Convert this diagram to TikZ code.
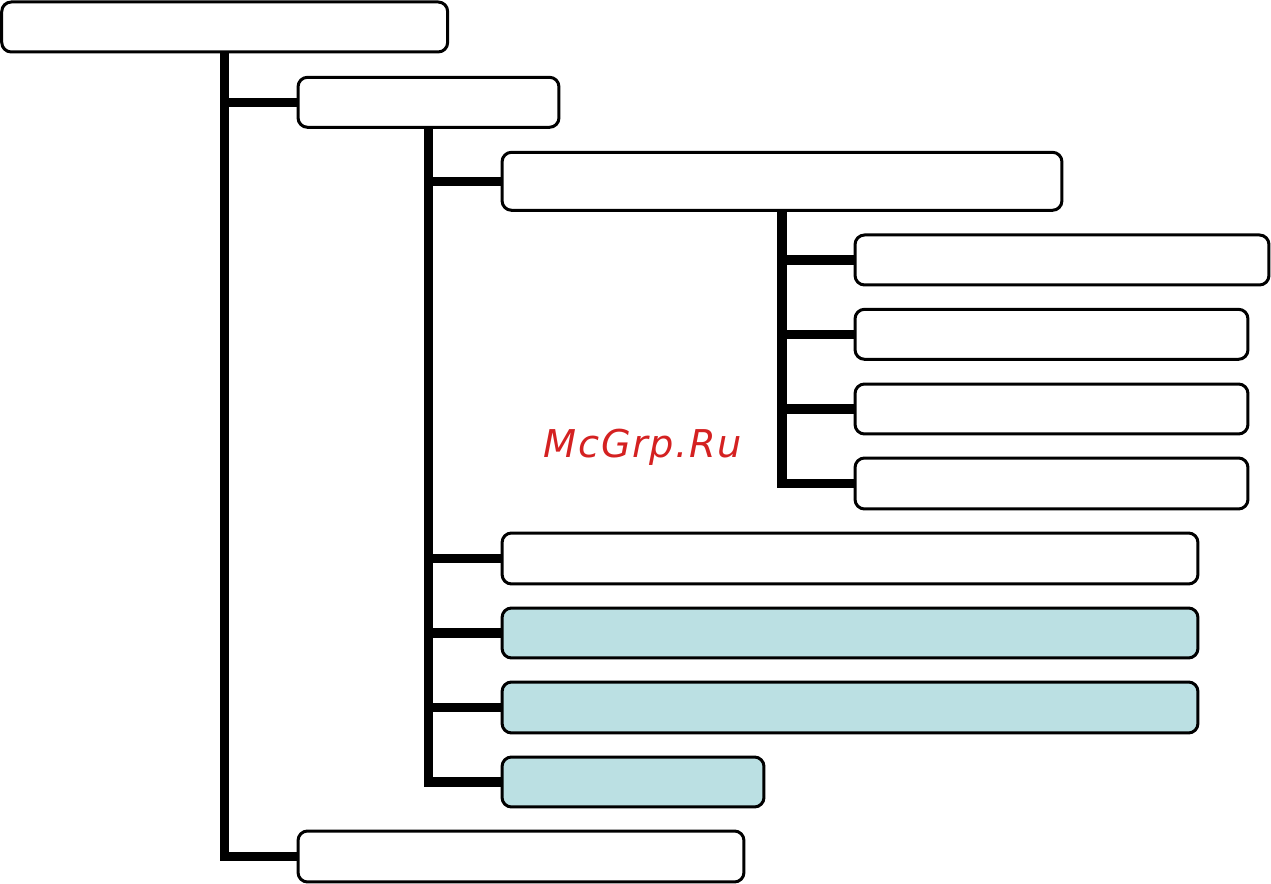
\documentclass[tikz,border=0pt]{standalone}
\usepackage{fontspec}
\newfontfamily\markfont[LetterSpace=4.3]{DejaVu Sans}
\definecolor{boxfill}{HTML}{BBE0E3}
\definecolor{markred}{HTML}{D42121}
\tikzset{
  plainbox/.style={rectangle,draw=black,fill=white,line width=0.06cm,rounded corners=0.19cm,inner sep=0pt},
  tealbox/.style={plainbox,fill=boxfill},
  trunk/.style={line width=0.19cm,draw=black}
}
\begin{document}
\begin{tikzpicture}[x=0.02cm,y=-0.02cm]

      \useasboundingbox (0,0) rectangle (1271,884);

      \path (224.7,27) node [plainbox,minimum width=8.92cm,minimum height=1cm](box_root){};
      \path (428.5,102.3) node [plainbox,minimum width=5.22cm,minimum height=1cm](box_sub){};
      \path (782,181.3) node [plainbox,minimum width=11.2cm,minimum height=1.16cm](box_main){};

      \path (1062,260) node [plainbox,minimum width=8.28cm,minimum height=1cm](box_a){};
      \path (1051.5,334.3) node [plainbox,minimum width=7.86cm,minimum height=1cm](box_b){};
      \path (1051.5,409) node [plainbox,minimum width=7.86cm,minimum height=1cm](box_c){};
      \path (1051.5,483.5) node [plainbox,minimum width=7.86cm,minimum height=1.02cm](box_d){};

      \path (850,558.5) node [plainbox,minimum width=13.92cm,minimum height=1.02cm](box_e){};
      \path (850,633) node [tealbox,minimum width=13.92cm,minimum height=1cm](box_f){};
      \path (850,707.5) node [tealbox,minimum width=13.92cm,minimum height=1.02cm](box_g){};
      \path (633,782) node [tealbox,minimum width=5.24cm,minimum height=1cm](box_h){};

      \path (521,856.5) node [plainbox,minimum width=8.92cm,minimum height=1.02cm](box_last){};

      \path (643,447.5) node [text=markred,font=\markfont\itshape\fontsize{21.8pt}{26pt}\selectfont](mark){McGrp.Ru};

      % left trunk
      \draw[trunk] (box_root.south) |- (box_last.west);
      \draw[trunk] (box_root.south |- box_sub.west) -- (box_sub.west);
      % middle trunk
      \draw[trunk] (box_sub.south) |- (box_h.west);
      \draw[trunk] (box_sub.south |- box_main.west) -- (box_main.west);
      \draw[trunk] (box_sub.south |- box_e.west) -- (box_e.west);
      \draw[trunk] (box_sub.south |- box_f.west) -- (box_f.west);
      \draw[trunk] (box_sub.south |- box_g.west) -- (box_g.west);
      % right trunk
      \draw[trunk] (box_main.south) |- (box_d.west);
      \draw[trunk] (box_main.south |- box_a.west) -- (box_a.west);
      \draw[trunk] (box_main.south |- box_b.west) -- (box_b.west);
      \draw[trunk] (box_main.south |- box_c.west) -- (box_c.west);

    \end{tikzpicture}
\end{document}
